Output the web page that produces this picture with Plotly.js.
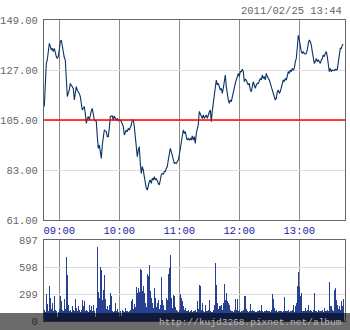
<!DOCTYPE html>
<html>
<head>
<meta charset="utf-8">
<script src="https://cdn.plot.ly/plotly-3.0.1.min.js"></script>
<style>html,body{margin:0;padding:0;background:#fff;}#chart{width:350px;height:330px;}</style>
</head>
<body>
<div id="chart"></div>
<script>
// Session: 08:45 .. 13:44, one value per minute
const sessionStart = "08:45";
const stampText = "2011/02/25 13:44";
const refPrice = 105;
const timeTicks = [15, 75, 135, 195, 255];            // minutes after 08:45
const timeLabels = ["09:00", "10:00", "11:00", "12:00", "13:00"];
const priceTicks = [61, 83, 105, 127, 149];
const priceLabels = ["61.00", "83.00", "105.00", "127.00", "149.00"];
const volTicks = [0, 299, 598, 897];
const volLabels = ["0", "299", "598", "897"];
const watermark = "http://kujd3268.pixnet.net/album";

const prices = [
 110.9,123.3,129.9,131.4,135.8,138.7,137.5,135.8,136.5,135.1,
 136.5,134.0,132.9,132.1,132.9,136.0,139.5,140.2,137.3,133.6,
 132.5,131.4,121.0,115.3,116.8,118.2,121.1,120.4,119.5,118.9,
 113.8,118.2,119.7,118.0,117.5,116.7,115.3,110.9,109.4,110.2,
 110.9,107.9,103.5,105.5,106.5,105.0,107.9,109.0,110.1,106.5,
 105.0,104.7,104.3,97.7,92.5,94.0,91.8,88.1,94.0,99.1,
 100.6,100.2,99.9,97.7,97.7,101.3,106.5,106.7,106.8,105.0,
 106.8,105.8,105.0,105.7,104.7,105.2,105.0,104.3,103.0,102.1,
 98.4,99.5,100.6,99.9,101.3,100.6,101.5,102.8,105.0,105.0,
 102.1,97.7,93.3,88.9,91.8,93.3,85.9,81.5,84.5,83.0,
 80.1,77.1,74.9,74.2,77.1,77.9,78.6,77.1,79.3,78.6,
 80.1,78.6,79.3,77.9,77.1,76.4,79.3,80.8,81.5,81.2,
 82.3,82.3,83.7,84.5,87.4,90.3,92.5,91.1,88.9,86.7,
 85.9,86.2,85.9,86.7,87.4,89.6,92.5,93.3,96.2,100.6,
 99.1,99.9,97.7,96.2,96.9,96.2,96.9,96.2,98.0,96.2,
 97.7,94.7,99.1,101.3,103.0,108.7,107.9,106.5,105.7,107.2,
 105.7,106.5,107.2,105.7,107.9,108.5,109.4,104.3,109.0,113.1,
 116.0,119.7,122.6,120.4,121.1,119.7,118.2,118.9,116.7,118.9,
 122.6,124.8,119.7,115.3,113.8,112.3,113.8,113.1,115.3,117.5,
 120.4,121.1,122.6,124.1,125.5,124.1,126.3,126.3,127.3,126.3,
 121.9,122.9,122.6,121.4,120.4,121.1,118.2,117.5,119.7,121.9,
 120.4,118.9,120.4,121.1,121.1,122.6,123.3,122.6,124.8,123.3,
 124.1,122.6,125.5,124.1,123.3,122.6,121.1,119.7,118.2,116.0,
 115.3,113.8,114.5,117.5,118.2,116.7,117.5,118.9,120.4,122.6,
 121.9,123.3,122.6,124.8,126.3,125.5,127.0,126.3,127.7,127.0,
 127.7,130.7,132.1,137.0,142.4,140.2,136.5,135.1,134.3,135.1,
 134.3,134.0,134.3,135.8,138.7,140.2,139.5,138.0,135.1,132.1,
 129.9,130.7,132.1,130.7,131.4,130.7,129.9,131.4,132.1,133.6,
 132.9,134.3,135.1,132.9,129.9,126.3,127.7,126.3,127.0,127.0,
 126.7,127.3,127.0,127.3,129.9,134.3,136.5,136.5,138.0,138.3
];

const volumes = [
 120,105,300,189,110,393,255,130,200,110,
 282,120,110,40,105,130,282,226,120,110,
 244,130,712,504,181,110,126,105,170,120,
 110,244,144,110,163,126,105,120,237,163,
 219,110,126,110,105,174,120,163,110,181,
 110,40,140,823,322,250,601,560,237,348,
 504,248,130,163,120,181,311,274,110,105,
 110,200,110,137,105,40,110,50,120,110,
 105,144,110,115,105,110,120,219,244,130,
 189,150,378,311,367,322,571,560,330,385,
 311,200,160,523,497,615,337,255,200,140,
 367,255,150,200,237,130,181,486,237,181,
 120,126,255,237,523,590,727,255,140,293,
 282,150,126,110,105,120,300,255,219,163,
 126,144,110,115,120,105,110,126,105,110,
 110,120,105,219,130,404,385,120,200,110,
 105,181,110,115,120,237,110,105,105,120,
 181,638,397,200,130,163,163,181,120,200,
 415,237,311,226,200,181,126,110,110,105,
 126,248,120,248,110,126,105,115,110,120,
 282,282,130,110,105,110,189,115,120,110,
 110,105,105,110,115,120,110,181,110,105,
 110,115,120,110,110,115,105,126,300,244,
 144,110,120,105,110,115,110,110,105,110,
 270,110,110,115,120,105,110,110,120,181,
 105,163,200,385,545,374,274,311,110,115,
 110,144,110,120,181,110,126,110,105,120,
 311,110,110,105,126,110,115,110,120,105,
 144,110,115,120,110,434,163,163,120,110,
 348,367,237,181,130,163,120,219,163,248
];

const minuteIdx = prices.map((_, i) => i);

const W = 350, H = 330;
const font = "Liberation Mono, DejaVu Sans Mono, monospace";
const xDom = [44 / W, 345 / W];
const xRange = [-0.3, 300.7];

const priceTrace = {
  type: "scatter", mode: "lines", x: minuteIdx, y: prices,
  xaxis: "x", yaxis: "y",
  line: { color: "#0a3366", width: 1.1 }, hoverinfo: "skip"
};
const volTrace = {
  type: "bar", x: minuteIdx, y: volumes, xaxis: "x2", yaxis: "y2",
  width: 0.95, marker: { color: "#27408f", line: { width: 0 } }, hoverinfo: "skip"
};

const axisBase = {
  showline: true, mirror: true, linecolor: "#666", linewidth: 1,
  ticks: "", zeroline: false, fixedrange: true
};

const layout = {
  width: W, height: H,
  margin: { l: 0, r: 0, t: 0, b: 0 },
  paper_bgcolor: "#fff", plot_bgcolor: "#fff",
  showlegend: false, bargap: 0,
  xaxis: Object.assign({}, axisBase, {
    domain: xDom, range: xRange, anchor: "y",
    tickmode: "array", tickvals: timeTicks, ticktext: timeLabels,
    showgrid: true, gridcolor: "#8c8c8c", gridwidth: 1,
    tickfont: { family: font, size: 10.5, color: "#1a1aa6" }
  }),
  yaxis: Object.assign({}, axisBase, {
    domain: [(H - 220) / H, (H - 20) / H], range: [61, 149], anchor: "x",
    tickmode: "array", tickvals: priceTicks, ticktext: priceLabels,
    showgrid: true, gridcolor: "#dcdcdc", gridwidth: 1,
    ticklabelstandoff: 3,
    tickfont: { family: font, size: 10.5, color: "#666" }
  }),
  xaxis2: Object.assign({}, axisBase, {
    domain: xDom, range: xRange, anchor: "y2",
    tickmode: "array", tickvals: timeTicks, showticklabels: false,
    showgrid: true, gridcolor: "#8c8c8c", gridwidth: 1
  }),
  yaxis2: Object.assign({}, axisBase, {
    domain: [(H - 321) / H, (H - 240) / H], range: [0, 897], anchor: "x2",
    tickmode: "array", tickvals: volTicks, ticktext: volLabels,
    showgrid: true, gridcolor: "#dcdcdc", gridwidth: 1,
    ticklabelstandoff: 3,
    tickfont: { family: font, size: 10.5, color: "#666" }
  }),
  shapes: [
    { type: "line", xref: "x domain", yref: "y", x0: 0, x1: 1, y0: refPrice, y1: refPrice,
      line: { color: "#ff0000", width: 1.5 }, layer: "above" },
    { type: "rect", xref: "paper", yref: "paper", x0: 0, x1: 1, y0: 0, y1: 17 / H,
      fillcolor: "rgba(0,0,0,0.58)", line: { width: 0 }, layer: "above" }
  ],
  annotations: [
    { xref: "paper", yref: "paper", x: 344 / W, y: (H - 11) / H, xanchor: "right", yanchor: "middle",
      text: stampText, showarrow: false, font: { family: font, size: 10.5, color: "#666" } },
    { xref: "paper", yref: "paper", x: 344 / W, y: (H - 322) / H, xanchor: "right", yanchor: "middle",
      text: watermark, showarrow: false, font: { family: font, size: 9.5, color: "#b8b8b8" } }
  ]
};

Plotly.newPlot("chart", [volTrace, priceTrace], layout, { displayModeBar: false, staticPlot: true });
</script>
</body>
</html>
